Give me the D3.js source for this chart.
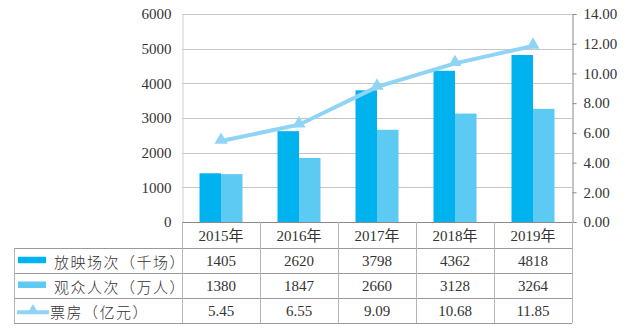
<!DOCTYPE html>
<html><head><meta charset="utf-8">
<script src="https://cdn.jsdelivr.net/npm/d3@7"></script>
<style>
html,body{margin:0;padding:0;background:#fff;}
svg{display:block;}
</style></head>
<body>
<svg id="chart" width="638" height="331"></svg>
<script>
const years = ["2015年", "2016年", "2017年", "2018年", "2019年"];
const screenings = [1405, 2620, 3798, 4362, 4818];
const audience = [1380, 1847, 2660, 3128, 3264];
const boxOffice = [5.45, 6.55, 9.09, 10.68, 11.85];
const seriesNames = ["放映场次（千场）", "观众人次（万人）", "票房（亿元）"];
const leftTicks = [0, 1000, 2000, 3000, 4000, 5000, 6000];
const rightTicks = [0, 2, 4, 6, 8, 10, 12, 14];
const colors = ["#00b2ee", "#5ccaf3", "#8fd4f4"];

const svg = d3.select("#chart");
const L = 182, R = 572, T = 14, B = 222;
const tableLeft = 14;
const rowEdges = [222, 248, 272.5, 297.5, 323];
const numFont = "'Liberation Serif','Times New Roman',serif";
const cjkFont = "'Liberation Serif','Noto Sans CJK SC',sans-serif";

const x = d3.scaleBand().domain(years).range([L, R]).padding(0);
const y = d3.scaleLinear().domain([0, 6000]).range([B, T]);
const y2 = d3.scaleLinear().domain([0, 14]).range([B, T]);
const groupW = 43;
const xs = d3.scaleBand().domain([0, 1]).range([0, groupW]).padding(0);

// gridlines
svg.append("g").selectAll("line").data(leftTicks.filter(d => d > 0)).join("line")
  .attr("x1", L).attr("x2", R)
  .attr("y1", d => Math.round(y(d)) + 0.5).attr("y2", d => Math.round(y(d)) + 0.5)
  .attr("stroke", "#c6c6c6").attr("stroke-width", 1);

// left axis
const gl = svg.append("g").attr("transform", `translate(${L + 0.5},0)`)
  .call(d3.axisLeft(y).tickValues(leftTicks).tickSize(0).tickPadding(11).tickFormat(d3.format("d")));
gl.select(".domain").attr("stroke", "#cfcfcf");
gl.selectAll("text").attr("font-family", numFont).attr("font-size", 15).attr("fill", "#333");

// bars
const seriesVals = [screenings, audience];
seriesVals.forEach((vals, si) => {
  svg.append("g").selectAll("rect").data(vals).join("rect")
    .attr("x", (d, i) => x(years[i]) + (x.bandwidth() - groupW) / 2 + xs(si))
    .attr("width", xs.bandwidth())
    .attr("y", d => y(d))
    .attr("height", d => B - y(d))
    .attr("fill", colors[si]);
});

// right axis
const gr = svg.append("g").attr("transform", `translate(${R + 0.5},0)`)
  .call(d3.axisRight(y2).tickValues(rightTicks).tickSize(4).tickPadding(7).tickFormat(d3.format(".2f")));
gr.select(".domain").attr("stroke", "#8a8a8a");
gr.selectAll(".tick line").attr("stroke", "#8a8a8a");
gr.selectAll("text").attr("font-family", numFont).attr("font-size", 15).attr("fill", "#333");

// line
const cx = i => x(years[i]) + x.bandwidth() / 2;
svg.append("path").datum(boxOffice)
  .attr("d", d3.line().x((d, i) => cx(i)).y(d => y2(d)))
  .attr("fill", "none").attr("stroke", colors[2]).attr("stroke-width", 4);
svg.append("g").selectAll("path").data(boxOffice).join("path")
  .attr("transform", (d, i) => `translate(${cx(i)},${y2(d) - 1})`)
  .attr("d", d3.symbol(d3.symbolTriangle, 75)())
  .attr("fill", colors[2]);

// x-axis baseline
svg.append("line").attr("x1", L).attr("x2", R).attr("y1", B + 0.5).attr("y2", B + 0.5)
  .attr("stroke", "#8a8a8a");

// table lines
const tg = svg.append("g");
rowEdges.slice(1).forEach(yy => {
  tg.append("line").attr("x1", tableLeft).attr("x2", R)
    .attr("y1", Math.round(yy) + 0.5).attr("y2", Math.round(yy) + 0.5)
    .attr("stroke", "#9a9a9a");
});
const vEdges = years.map(d => x(d)).concat([R]);
vEdges.forEach(xx => {
  tg.append("line").attr("x1", Math.round(xx) + 0.5).attr("x2", Math.round(xx) + 0.5)
    .attr("y1", B).attr("y2", 323).attr("stroke", "#b5b5b5");
});
tg.append("line").attr("x1", tableLeft + 0.5).attr("x2", tableLeft + 0.5)
  .attr("y1", rowEdges[1]).attr("y2", 323).attr("stroke", "#b5b5b5");

// header years
const rowMid = i => (rowEdges[i] + rowEdges[i + 1]) / 2;
svg.append("g").selectAll("text").data(years).join("text")
  .attr("x", d => x(d) + x.bandwidth() / 2).attr("y", rowMid(0) + 1)
  .attr("text-anchor", "middle").attr("dominant-baseline", "central")
  .attr("font-family", cjkFont).attr("font-size", 15).attr("fill", "#333")
  .text(d => d);

// table values
const tableVals = [screenings.map(String), audience.map(String), boxOffice.map(d => d.toFixed(2))];
tableVals.forEach((vals, r) => {
  svg.append("g").selectAll("text").data(vals).join("text")
    .attr("x", (d, i) => cx(i)).attr("y", rowMid(r + 1) + 1)
    .attr("text-anchor", "middle").attr("dominant-baseline", "central")
    .attr("font-family", numFont).attr("font-size", 15).attr("fill", "#333")
    .text(d => d);
});

// legend keys and labels
seriesNames.forEach((name, r) => {
  const my = rowMid(r + 1);
  if (r < 2) {
    svg.append("rect").attr("x", 18).attr("y", my - 3.5).attr("width", 28).attr("height", 6.5)
      .attr("fill", colors[r]);
  } else {
    svg.append("line").attr("x1", 17).attr("x2", 49).attr("y1", my + 2).attr("y2", my + 2)
      .attr("stroke", colors[2]).attr("stroke-width", 4);
    svg.append("path").attr("transform", `translate(33,${my})`)
      .attr("d", d3.symbol(d3.symbolTriangle, 50)()).attr("fill", colors[2]);
  }
  svg.append("text").attr("x", r < 2 ? 54 : 50).attr("y", my + 1)
    .attr("dominant-baseline", "central")
    .attr("font-family", "'Noto Sans CJK SC',sans-serif").attr("font-size", 15)
    .attr("letter-spacing", 1.5)
    .attr("font-weight", 300).attr("fill", "#333")
    .text(name);
});
</script>
</body></html>
